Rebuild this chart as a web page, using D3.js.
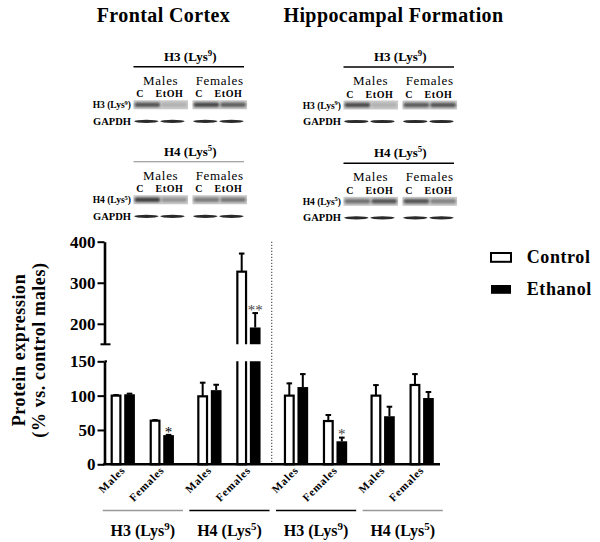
<!DOCTYPE html>
<html>
<head>
<meta charset="utf-8">
<script src="https://cdn.jsdelivr.net/npm/d3@7"></script>
<style>
body{margin:0;background:#fff;}
svg{display:block;}
text{font-family:"Liberation Serif","Times New Roman","DejaVu Serif",serif;fill:#000;}
</style>
</head>
<body>
<div id="chart"></div>
<script>
//=======================================================================
// data
var regions      = ["Frontal Cortex", "Hippocampal Formation"];
var sexes        = ["Males", "Females", "Males", "Females", "Males", "Females", "Males", "Females"];
var histones     = ["H3", "H4", "H3", "H4"];
var lysSites     = ["9", "5", "9", "5"];
var controlMean  = [100, 63.5, 99, 327, 100, 63, 100, 115.5];
var controlSem   = [2, 2, 21, 46, 19, 10, 16.5, 17];
var ethanolMean  = [102, 42.5, 108, 191, 112.5, 33.5, 70, 96.5];
var ethanolSem   = [2, 1.5, 9, 37, 20, 6.5, 15, 10];
var signif       = ["", "*", "", "**", "", "*", "", ""];
var lowTicks     = [0, 50, 100, 150];
var highTicks    = [200, 300, 400];
var legendLabels = ["Control", "Ethanol"];
var laneLabels   = ["C", "EtOH", "C", "EtOH"];
var sexLabels    = ["Males", "Females"];
// western blot band darkness per lane (C, EtOH | C, EtOH), 0 = none, 1 = black
var fcH3Bands    = [0.72, 0.18, 0.8, 0.66];
var fcH4Bands    = [0.85, 0.35, 0.5, 0.52];
var hfH3Bands    = [0.78, 0.18, 0.68, 0.72];
var hfH4Bands    = [0.55, 0.72, 0.72, 0.45];
var gapdhBands   = [0.97, 0.97, 0.97, 0.97];
//-----------------------------------------------------------------------

var W = 600, H = 542;
var svg = d3.select("#chart").append("svg").attr("width", W).attr("height", H);
var defs = svg.append("defs");
defs.append("filter").attr("id", "blur").attr("x", "-20%").attr("y", "-50%").attr("width", "140%").attr("height", "200%")
	.append("feGaussianBlur").attr("stdDeviation", 0.9);
defs.append("filter").attr("id", "blurS").attr("x", "-20%").attr("y", "-80%").attr("width", "140%").attr("height", "260%")
	.append("feGaussianBlur").attr("stdDeviation", 0.45);

// scales (broken y axis: two segments)
var yLow  = d3.scaleLinear().domain([0, 150]).range([464.3, 361.3]);
var yHigh = d3.scaleLinear().domain([150, 400]).range([344.3, 241.7]);
function yOf(v){ return v <= 150 ? yLow(v) : yHigh(v); }

function slot(i){ return i + 0.22 * Math.floor(i / 2); }
var x = d3.scaleLinear().domain([0, slot(7)]).range([110.7, 409.6]);
var barW = 10.7, barGap = 2.8, groupW = barW * 2 + barGap;
var axisX = 104.5;

defs.append("clipPath").attr("id", "clipLow").append("rect")
	.attr("x", 0).attr("y", yLow(150)).attr("width", W).attr("height", yLow(0) - yLow(150) + 5);
defs.append("clipPath").attr("id", "clipHigh").append("rect")
	.attr("x", 0).attr("y", 200).attr("width", W).attr("height", yHigh(150) - 200);

function lysText(sel, mark, site, fs)
{
	sel.append("tspan").text(mark + " (Lys");
	sel.append("tspan").attr("font-size", fs * 0.68).attr("dy", -fs * 0.38).text(site);
	sel.append("tspan").attr("dy", fs * 0.38).text(")");
}

// ---- region titles
var titleX = [163.5, 393.5];
svg.selectAll("text.title").data(regions).enter().append("text")
	.attr("class", "title")
	.attr("x", function(d, i){ return titleX[i]; })
	.attr("y", 21.5)
	.attr("text-anchor", "middle")
	.attr("font-size", 20).attr("font-weight", "bold").attr("letter-spacing", 0.4)
	.text(function(d){ return d; });

// ---- western blot panels
function drawBlot(px, sy, mark, site, bands, lineColor)
{
	var sw = 54.5, gap = 4.5, full = sw * 2 + gap;
	var g = svg.append("g");
	var hdr = g.append("text").attr("x", px + full / 2).attr("y", sy - 39.5)
		.attr("text-anchor", "middle").attr("font-size", 13).attr("font-weight", "bold");
	lysText(hdr, mark, site, 13);
	g.append("line").attr("x1", px).attr("x2", px + full - 3)
		.attr("y1", sy - 33.5).attr("y2", sy - 33.5)
		.attr("stroke", lineColor).attr("stroke-width", lineColor == "#000" ? 1.6 : 1.1);

	sexLabels.forEach(function(s, k){
		g.append("text").attr("x", px + k * (sw + gap) + sw / 2).attr("y", sy - 15.5)
			.attr("text-anchor", "middle").attr("font-size", 13).attr("letter-spacing", 0.7).text(s);
	});
	laneLabels.forEach(function(s, k){
		var st = Math.floor(k / 2), ln = k % 2;
		g.append("text").attr("x", px + st * (sw + gap) + sw * (ln ? 0.66 : 0.12)).attr("y", sy - 3)
			.attr("text-anchor", "middle").attr("font-size", 10).attr("font-weight", "bold")
			.attr("letter-spacing", 0.6).text(s);
	});

	// row labels
	var rl = g.append("text").attr("x", px - 2.5).attr("y", sy + 8)
		.attr("text-anchor", "end").attr("font-size", 9.5).attr("font-weight", "bold");
	lysText(rl, mark, site, 9.5);
	g.append("text").attr("x", px - 2.5).attr("y", sy + 24.5)
		.attr("text-anchor", "end").attr("font-size", 10.5).attr("font-weight", "bold").text("GAPDH");

	var bandCol = d3.interpolateRgb("#cfcfcf", "#262626");
	[0, 1].forEach(function(st){
		g.append("rect").attr("x", px + st * (sw + gap)).attr("y", sy)
			.attr("width", sw).attr("height", 9).attr("fill", "#cbcbcb");
	});
	bands.forEach(function(b, k){
		var st = Math.floor(k / 2), ln = k % 2;
		var lx = px + st * (sw + gap) + sw * (ln ? 0.51 : 0.02);
		g.append("rect").attr("x", lx).attr("y", sy + 2.2)
			.attr("width", sw * 0.47).attr("height", 4.6).attr("rx", 2)
			.attr("fill", bandCol(b)).attr("filter", "url(#blur)");
	});
	gapdhBands.forEach(function(b, k){
		var st = Math.floor(k / 2), ln = k % 2;
		var lx = px + st * (sw + gap) + sw * (ln ? 0.5 : 0.02);
		g.append("ellipse").attr("cx", lx + sw * 0.215).attr("cy", sy + 21)
			.attr("rx", sw * 0.225).attr("ry", 1.6)
			.attr("fill", bandCol(b)).attr("filter", "url(#blurS)");
	});
}
drawBlot(133.5, 100.3, "H3", "9", fcH3Bands, "#000");
drawBlot(133.5, 195.3, "H4", "5", fcH4Bands, "#888");
drawBlot(343.5, 100.5, "H3", "9", hfH3Bands, "#000");
drawBlot(343.5, 196.8, "H4", "5", hfH4Bands, "#000");

// ---- y axes
function styleAxis(g)
{
	g.attr("font-family", null);
	g.select(".domain").attr("stroke-width", 2.6);
	g.selectAll(".tick line").attr("stroke-width", 2);
	g.selectAll(".tick text").attr("font-size", 17).attr("font-weight", "bold").attr("fill", "#000");
}
var gLow = svg.append("g").attr("transform", "translate(" + axisX + ",0)")
	.call(d3.axisLeft(yLow).tickValues(lowTicks).tickSize(7).tickSizeOuter(0).tickPadding(2))
	.call(styleAxis);
var gHigh = svg.append("g").attr("transform", "translate(" + axisX + ",0)")
	.call(d3.axisLeft(yHigh).tickValues(highTicks).tickSize(7).tickSizeOuter(0).tickPadding(2))
	.call(styleAxis);
svg.append("line").attr("x1", axisX - 4).attr("x2", axisX + 6)
	.attr("y1", yHigh(150)).attr("y2", yHigh(150)).attr("stroke", "#000").attr("stroke-width", 2);
svg.append("line").attr("x1", axisX).attr("x2", axisX + 2.5)
	.attr("y1", yLow(150)).attr("y2", yLow(150)).attr("stroke", "#000").attr("stroke-width", 2);

// y title
var yt = svg.append("text").attr("transform", "translate(25,350) rotate(-90)")
	.attr("text-anchor", "middle").attr("font-size", 18).attr("font-weight", "bold").attr("letter-spacing", 0.6);
yt.append("tspan").attr("x", 0).attr("dy", 0).text("Protein expression");
yt.append("tspan").attr("x", 0).attr("dy", 19.5).text("(% vs. control males)");

// dotted region separator
svg.append("line").attr("x1", 271.7).attr("x2", 271.7).attr("y1", yHigh(400)).attr("y2", yLow(0) - 2)
	.attr("stroke", "#555").attr("stroke-width", 1.2).attr("stroke-dasharray", "1.4,1.6");

// ---- bars
function drawBar(bx, v, isCtrl)
{
	var inset = isCtrl ? 1 : 0, w = barW - inset * 2;
	var attrs = function(r){
		r.attr("fill", isCtrl ? "#fff" : "#000").attr("stroke", "#000")
		 .attr("stroke-width", isCtrl ? 2.2 : 0);
	};
	if (v <= 150)
	{
		svg.append("rect").attr("x", bx + inset).attr("y", yLow(v))
			.attr("width", w).attr("height", yLow(0) - yLow(v)).call(attrs);
	}
	else
	{
		svg.append("rect").attr("clip-path", "url(#clipLow)").attr("x", bx + inset).attr("y", yLow(150) - 5)
			.attr("width", w).attr("height", yLow(0) - yLow(150) + 5).call(attrs);
		svg.append("rect").attr("clip-path", "url(#clipHigh)").attr("x", bx + inset).attr("y", yHigh(v))
			.attr("width", w).attr("height", yHigh(150) + 5 - yHigh(v)).call(attrs);
	}
}
function drawErr(bx, m, s)
{
	var cx = bx + barW / 2, top = yOf(m + s);
	svg.append("line").attr("x1", cx).attr("x2", cx).attr("y1", yOf(m)).attr("y2", top)
		.attr("stroke", "#000").attr("stroke-width", 2);
	svg.append("line").attr("x1", cx - 2.8).attr("x2", cx + 2.8).attr("y1", top + 0.8).attr("y2", top + 0.8)
		.attr("stroke", "#000").attr("stroke-width", 2);
}
var starColor = ["", "#000", "", "#444", "", "#444", "", ""];
sexes.forEach(function(s, i){
	var gx = x(slot(i));
	drawErr(gx, controlMean[i], controlSem[i]);
	drawBar(gx, controlMean[i], true);
	drawErr(gx + barW + barGap, ethanolMean[i], ethanolSem[i]);
	drawBar(gx + barW + barGap, ethanolMean[i], false);
	if (signif[i])
	{
		svg.append("text").attr("x", gx + barW + barGap + barW / 2)
			.attr("y", yOf(ethanolMean[i] + ethanolSem[i]) + 2.5)
			.attr("text-anchor", "middle").attr("font-size", 15)
			.style("fill", starColor[i]).text(signif[i]);
	}
	// rotated sex labels
	svg.append("text").attr("transform", "translate(" + (gx + groupW / 2 + 3) + ",471) rotate(-45)")
		.attr("text-anchor", "end").attr("font-size", 11).attr("font-weight", "bold")
		.attr("letter-spacing", 0.8).text(s);
});

// x axis line
svg.append("line").attr("x1", axisX - 1.3).attr("x2", 440).attr("y1", yLow(0)).attr("y2", yLow(0))
	.attr("stroke", "#000").attr("stroke-width", 2.6);

// histone group labels under axis
var underColor = ["#999", "#000", "#000", "#999"];
histones.forEach(function(h, j){
	var x1 = x(slot(2 * j)) - 8, x2 = x(slot(2 * j + 1)) + groupW + 9;
	svg.append("line").attr("x1", x1).attr("x2", x2).attr("y1", 510.5).attr("y2", 510.5)
		.attr("stroke", underColor[j]).attr("stroke-width", 1.5);
	var t = svg.append("text").attr("x", (x1 + x2) / 2).attr("y", 536)
		.attr("text-anchor", "middle").attr("font-size", 16).attr("font-weight", "bold");
	lysText(t, h, lysSites[j], 16);
});

// ---- legend
legendLabels.forEach(function(l, k){
	var ly = k ? 285 : 253;
	svg.append("rect").attr("x", 491).attr("y", ly).attr("width", 20).attr("height", 8.8)
		.attr("fill", k ? "#000" : "#fff").attr("stroke", "#000").attr("stroke-width", k ? 0 : 2);
	svg.append("text").attr("x", 526.7).attr("y", ly + 9.5)
		.attr("font-size", 18).attr("font-weight", "bold").attr("letter-spacing", 0.6).text(l);
});
//=======================================================================
</script>
</body>
</html>
